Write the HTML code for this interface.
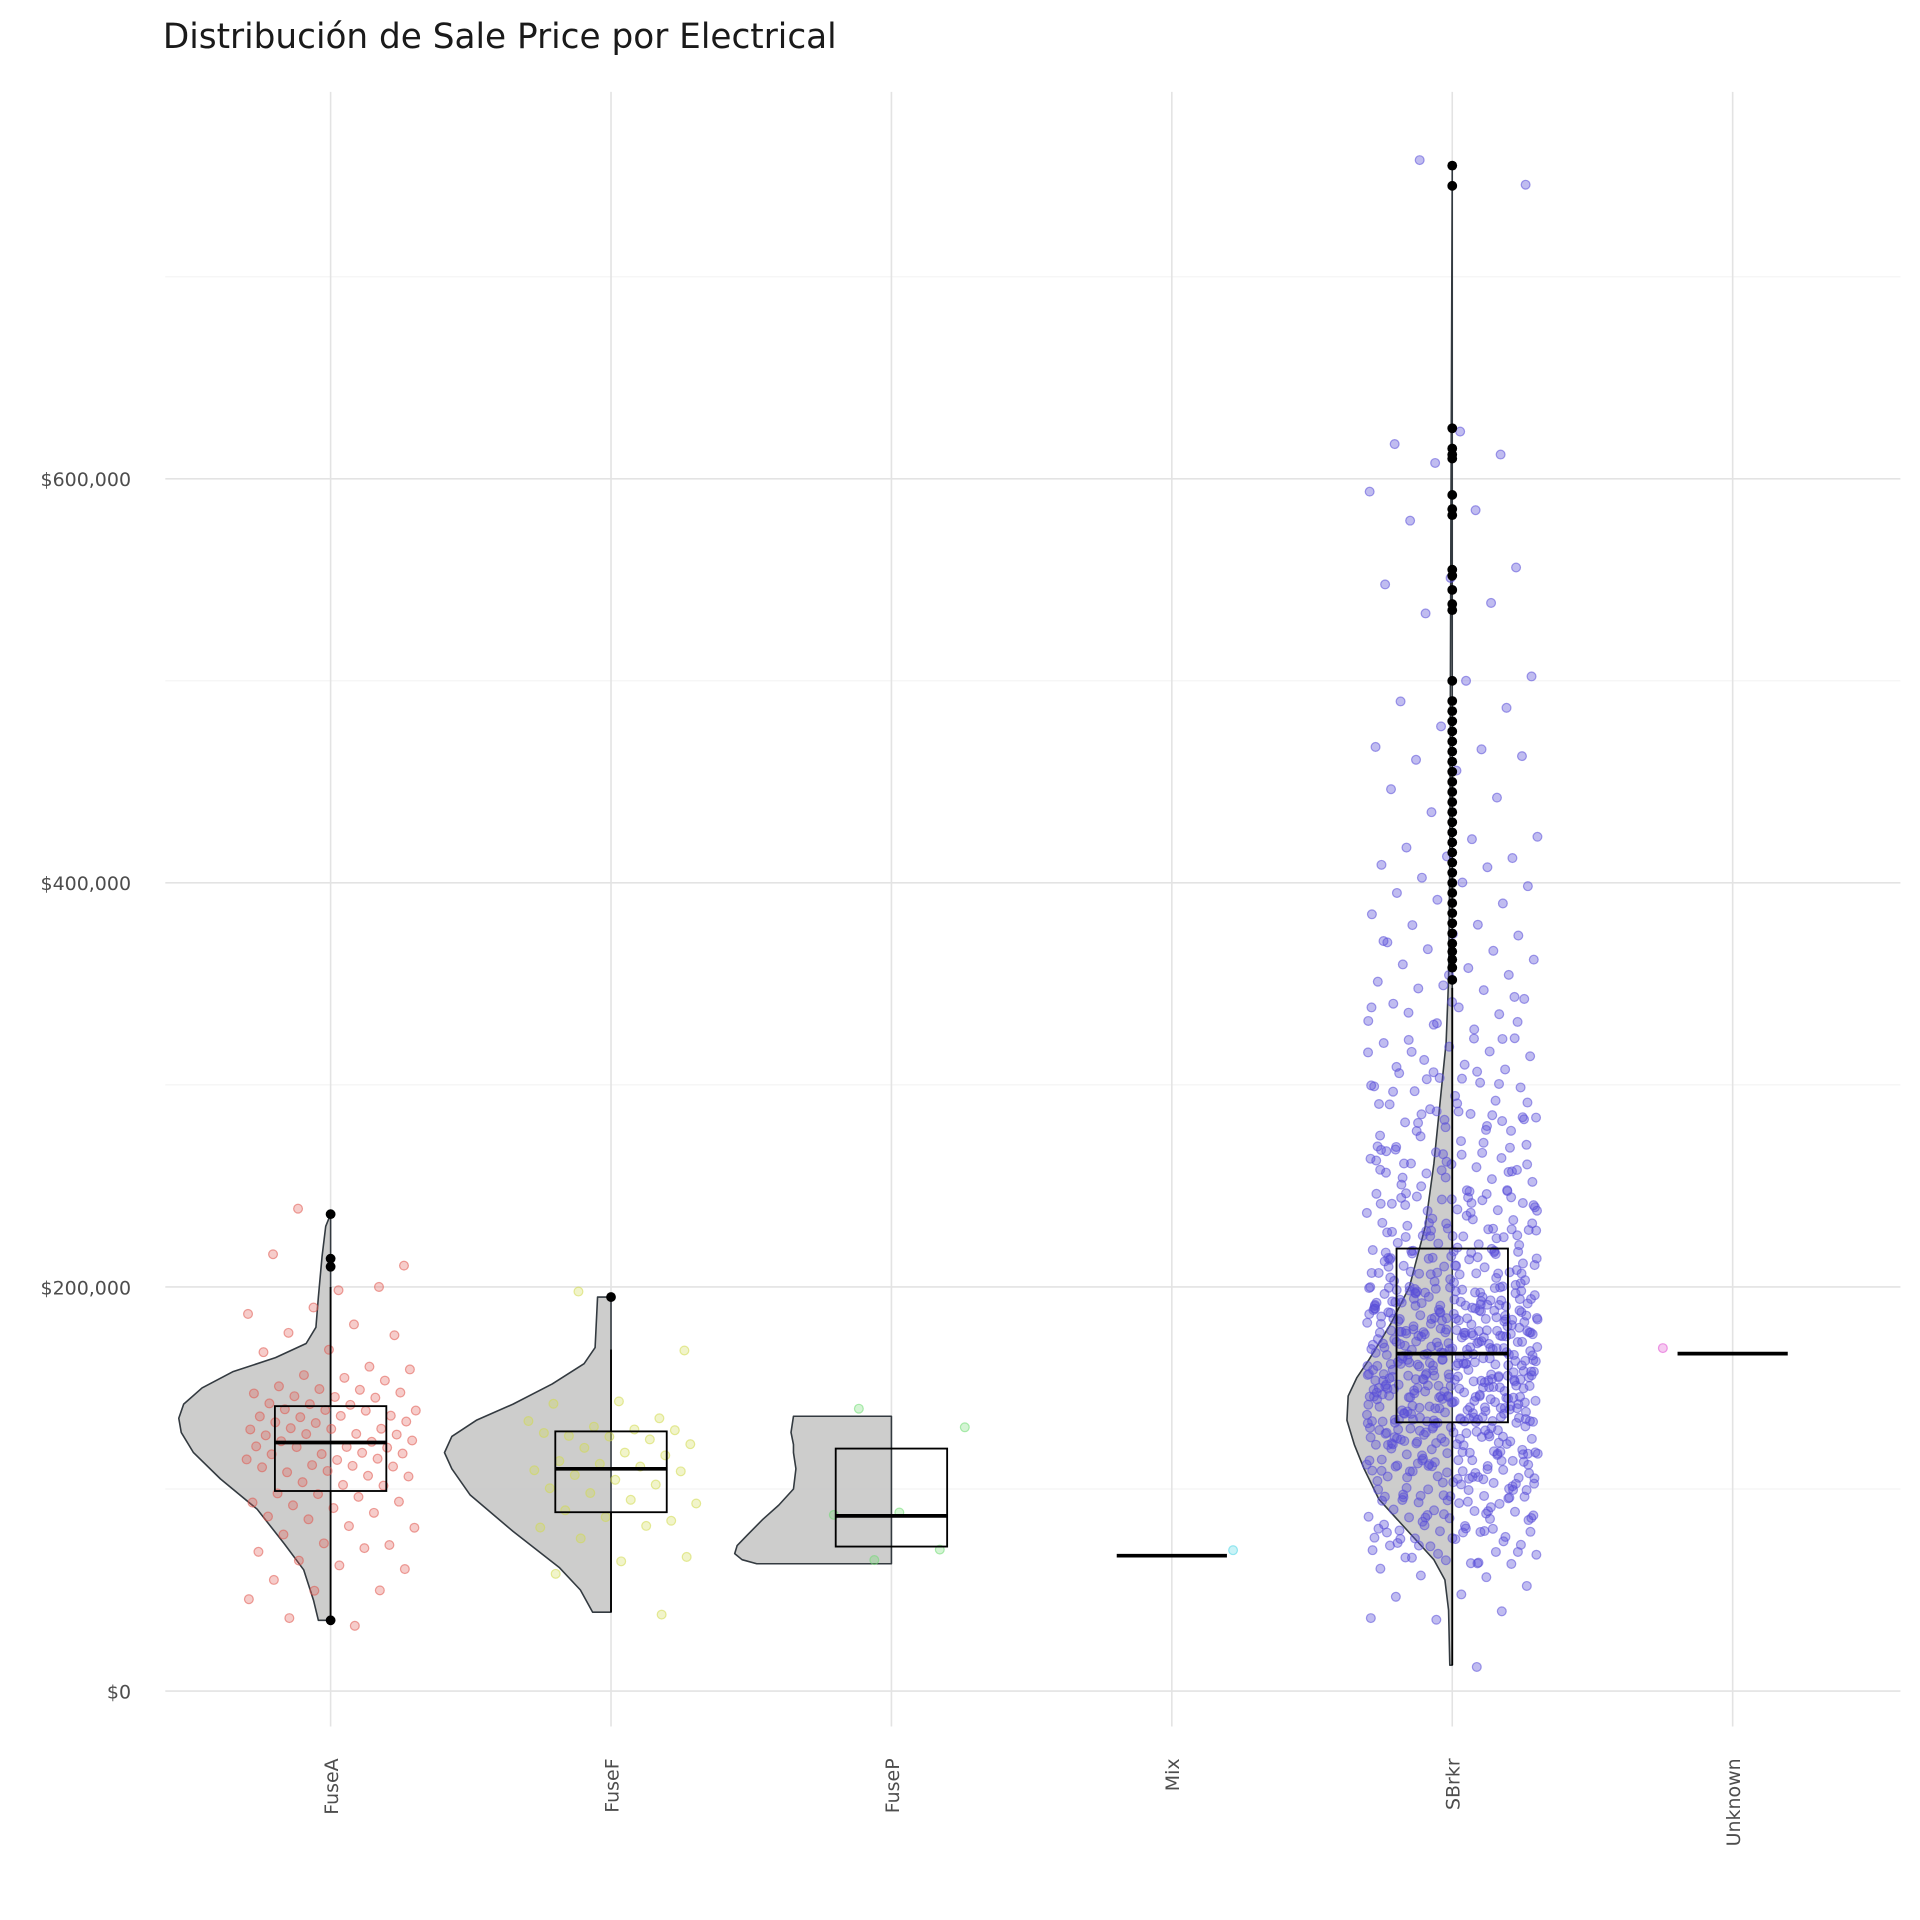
<!DOCTYPE html>
<html><head><meta charset="utf-8"><style>
html,body{margin:0;padding:0;background:#fff;}
svg{display:block;font-family:"DejaVu Sans","Liberation Sans",sans-serif;}
</style></head><body>
<svg id="chart" width="1920" height="1920" viewBox="0 0 1568 1568" xmlns="http://www.w3.org/2000/svg">
<text x="133" y="39" font-size="28" fill="#1a1a1a">Distribución de Sale Price por Electrical</text>
<g id="grid"></g><g id="marks"></g><g id="axes"></g>
</svg>
<script>
const categories=["FuseA","FuseF","FuseP","Mix","SBrkr","Unknown"];
const colors=["#e0574f","#d2da4e","#6fdc72","#4fd6e6","#5a4fd8","#e04fd2"];
const yTicks=[0,200000,400000,600000];
const yMinor=[100000,300000,500000,700000];
const boxFuseA=[35,99,123,141,200];
const boxFuseF=[39,88.5,110,128.5,169];
const boxFuseP=[63,71.5,86.7,120,136];
const boxMix=[67,67,67,67,67];
const boxSBrkr=[12.8,133,167,219,348];
const boxUnknown=[167,167,167,167,167];
const violinFuseAVal=[35,45,60,73,90,105,118,128,135,142,150,158,165,172,180,195,215,230,236];
const violinFuseADen=[10,14,22,38,60,90,112,122,124,120,105,80,45,20,12,10,7,4,0];
const violinFuseFVal=[39,50,61,79,97,110,118,126,134,142,152,162,170,195];
const violinFuseFDen=[15,25,42,80,115,130,136,130,110,80,48,22,13,11];
const violinFusePVal=[63,65,68,72,77,85,92,100,110,118,122,128,136];
const violinFusePDen=[110,122,128,126,118,105,92,80,78,80,80,82,80];
const violinSBrkrVal=[12.8,40,55,65,75,85,95,110,122,134,146,155,164,182,200,230,261,291,321,352,412,594,755];
const violinSBrkrDen=[2,3,6,15,30,45,60,72,80,86,85,78,68,50,35,22,15,10,5,3,2,1,0];
const outFuseA=[35,210,214,236];
const outFuseF=[195];
const outSBrkr=[352,358,362,366,370,375,380,385,390,395,400,405,410,415,420,425,430,435,440,445,450,455,460,465,470,475,480,485,490,500,535,538,545,552,555,582,585,592,610,612,615,625,745,755];
const ptsFuseA=[236,210,200,214,200,192,185,182,180,175,170,165,160,158,157,155,153,152,150,150,148,147,145,145,144,143,142,141,140,140,139,138,137,136,135,135,134,133,132,131,130,130,129,128,127,126,125,125,124,123,122,121,120,120,119,118,117,116,115,115,114,113,112,111,110,110,108,106,105,104,102,100,100,98,96,95,93,91,90,88,86,85,83,80,78,75,72,70,68,64,62,60,55,52,48,46,35,35];
const ptsFuseF=[195,168,145,140,135,133,132,130,129,128,127,125,124,122,120,118,116,115,113,112,110,108,106,104,102,100,98,95,93,90,87,85,82,79,75,68,62,58,40];
const ptsFuseP=[137,130,90,85,70,67];
const ptsMix=[67];
const ptsUnknown=[167];
const ptsSBrkr=[755,745,625,615,612,610,592,585,582,555,552,545,538,535,500,500,492,485,478,470,465,462,460,455,448,440,435,425,420,418,415,412,410,405,402,400,398,395,392,390,385,382,378,375,372,370,368,365,362,360,358,355,352,350,348,345,342,340,338,335,332,330,328,325,322,320,318,316,314,312,310,308,306,304,302,300,298,296,294,292,290,288,286,284,282,280,278,276,275,274,272,270,268,266,265,264,262,260,259,258,256,255,254,252,250,249,248,246,245,244,242,241,240,239,238,236,235,234,233,232,230,229,228,227,226,225,224,223,222,221,220,219,218,217,216,215,214,213,212,211,210,209,208,207,206,205,204,203,202,201,200,200,199,198,197,196,195,195,194,193,192,191,190,190,189,188,187,186,185,185,184,183,182,181,180,180,179,178,177,176,175,175,174,173,172,171,170,170,169,168,167,167,166,165,165,164,163,162,162,161,160,160,159,158,157,157,156,155,155,154,153,152,152,151,150,150,149,148,148,147,146,145,145,144,143,143,142,141,140,140,139,138,138,137,136,135,135,134,133,133,132,131,130,130,129,128,128,127,126,125,125,124,123,123,122,121,120,120,119,118,118,117,116,115,115,114,113,112,112,111,110,110,109,108,107,106,105,105,104,103,102,101,100,100,99,98,97,96,95,94,93,92,91,90,89,88,87,86,85,84,83,82,81,80,80,79,78,77,76,75,74,73,72,71,70,68,66,65,64,62,60,58,55,52,50,45,40,38,35,13];
const ptsSBrkrMore=[215,225,245,265,285,305,175,185,195,155,165,145,135,125,115,105,195,205,215,185,175,165,155,145,135,125,115,110,120,130,140,150,160,170,180,190,200,210,220,230,240,250,260,270,280,290,
142,138,131,127,124,119,116,113,109,106,102,98,94,91,88,84,81,78,144,147,151,153,156,159,161,164,168,171,173,176,178,181,184,187,189,192,194,197,199,203,206,208,212,216,219,223,227,231,236,241,247,253,258,263,269,273,279,283,289,295,301,309,315,324,333,343,356,369,
126,129,132,134,137,139,141,143,146,149,152,154,157,160,163,166,169,172,174,177,179,182,186,188,191,193,196,198,201,204,207,210,213,217,221,226,232,238,243,249,255,262,268,275,284,293,
121,118,114,111,107,103,99,96,92,89,86,83,79,76,73,69,67,63,136,133,128,124,117,112,108,104,97,93,87,82,77,72,
145,148,150,153,155,158,160,162,165,167,170,172,175,178,180,183,185,188,190,193,195,198,200,203,205,209,213,218,222,228,233,239,246,252,259,266,272,281,288,297,306,318,329,341,
130,132,134,136,138,140,142,144,146,148,150,152,154,156,158,160,162,164,166,168,170,172,174,176,178,180,182,184,186,188,190,192,194,196,198,200,
115,117,119,121,123,125,127,129,131,133,135,137,139,141,143,145,147,149,151,153,155,157,159,161,163,165,167,169,171,173,175,177,179,181,183,185,187,
100,103,106,109,112,115,118,121,124,127,130,133,136,139,142,145,148,151,154,157,160,163,166,169,172,175,178,181,184,187,190,
135,139,143,147,151,155,159,163,167,171,175,179,183,187,191,195,199,204,209,214,219,224,229,234,240,246,252,258,
90,95,100,105,110,115,120,125,130,135,140,145,150,155,160,165,170,175,180,185,190,195,200,210,220,230,
128,131,134,137,140,143,146,149,152,155,158,161,164,167,170,173,176,179,182,185,188,191,194,197,
132,137,141,146,150,155,159,164,168,173,177,182,186,191,196,201,206,211,
145,151,157,163,169,175,181,187,193,199,205,211,217,223,229,235,241,248,255,262,270,278,286,294,302,310,320,330,340,
61,66,71,74,79,83,86,88,91,94,97,101,104,107,111,114,117,121,124,128,132,137];
const boxes=[boxFuseA,boxFuseF,boxFuseP,boxMix,boxSBrkr,boxUnknown];
const violins=[[violinFuseAVal,violinFuseADen],[violinFuseFVal,violinFuseFDen],[violinFusePVal,violinFusePDen],null,[violinSBrkrVal,violinSBrkrDen],null];
const outliers=[outFuseA,outFuseF,[],[],outSBrkr,[]];
const points=[ptsFuseA,ptsFuseF,ptsFuseP,ptsMix,ptsSBrkr.concat(ptsSBrkrMore),ptsUnknown];

const NS="http://www.w3.org/2000/svg";
const X0=270,DX=229,Y0=1381,PXK=1.65;
const xs=i=>X0+i*DX;
const ys=k=>Y0-k*PXK;
function el(t,a,p){const e=document.createElementNS(NS,t);for(const k in a)e.setAttribute(k,a[k]);p.appendChild(e);return e;}
const grid=document.getElementById('grid'),marks=document.getElementById('marks'),axes=document.getElementById('axes');
yMinor.forEach(v=>{const l=el('line',{x1:135,x2:1552,y1:ys(v/1000),y2:ys(v/1000),stroke:'#f4f4f4','stroke-width':1},grid);

});
yTicks.forEach(v=>{const l=el('line',{x1:135,x2:1552,y1:ys(v/1000),y2:ys(v/1000),stroke:'#e3e3e3','stroke-width':1.3},grid);


const t=el('text',{x:107,y:ys(v/1000)+6,'text-anchor':'end','font-size':15.5,fill:'#4d4d4d'},axes);
t.textContent='$'+v.toLocaleString('en-US');

});
categories.forEach((c,i)=>{const l=el('line',{x1:xs(i),x2:xs(i),y1:75,y2:1410,stroke:'#e3e3e3','stroke-width':1.3},grid);


const t=el('text',{transform:`translate(${xs(i)+6},1436) rotate(-90)`,'text-anchor':'end','font-size':15.5,fill:'#4d4d4d'},axes);
t.textContent=c;

});
violins.forEach((v,i)=>{if(!v)return;const [vals,den]=v;const cx=xs(i);
let d=`M${cx},${ys(vals[0])}`;vals.forEach((k,j)=>{d+=` L${cx-den[j]},${ys(k)}`;});d+=` L${cx},${ys(vals[vals.length-1])} Z`;
const p=el('path',{d:d,fill:'#c8c8c6','fill-opacity':0.9,stroke:'#333a40','stroke-width':1.3,'stroke-linejoin':'round'},marks);

});
function jit(j){return ((j*0.6180339+0.31)%1-0.5)*2;}
points.forEach((arr,i)=>{const cx=xs(i);const spread=arr.length>3?70:50;const op=i===4?0.38:0.3;
arr.forEach((k,j)=>{let dx=jit(j)*spread;if(i===3)dx=50;if(i===5)dx=-57;
const c=el('circle',{cx:cx+dx,cy:ys(k)+((j*37)%11-5)*0.9,r:3.6,fill:colors[i],'fill-opacity':op,stroke:colors[i],'stroke-opacity':0.55,'stroke-width':1},marks);

});});
boxes.forEach((b,i)=>{const cx=xs(i);const g=el('g',{},marks);


if(b[1]===b[3]){el('line',{x1:cx-45,x2:cx+45,y1:ys(b[2]),y2:ys(b[2]),stroke:'#000','stroke-width':3},g);return;}
if(i!==2){el('line',{x1:cx,x2:cx,y1:ys(b[0]),y2:ys(b[1]),stroke:'#000','stroke-width':1.5},g);
el('line',{x1:cx,x2:cx,y1:ys(b[3]),y2:ys(b[4]),stroke:'#000','stroke-width':1.5},g);}
el('rect',{x:cx-45.5,y:ys(b[3]),width:91,height:ys(b[1])-ys(b[3]),fill:'none',stroke:'#000','stroke-width':1.5},g);
el('line',{x1:cx-45.5,x2:cx+45.5,y1:ys(b[2]),y2:ys(b[2]),stroke:'#000','stroke-width':3},g);});
outliers.forEach((arr,i)=>arr.forEach(k=>{const c=el('circle',{cx:xs(i),cy:ys(k),r:4,fill:'#000'},marks);

}));
</script>
</body></html>
